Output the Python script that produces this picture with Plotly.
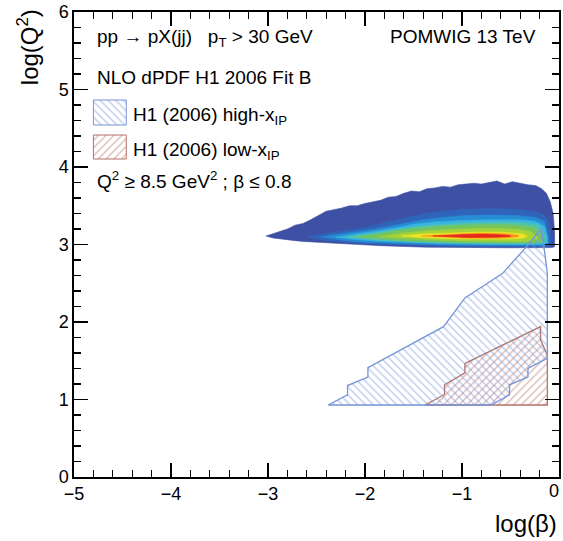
import plotly.graph_objects as go

# ---------------- data ----------------
# 2D density (log(beta), log(Q^2)) drawn as nested colour bands, outer -> inner
band_colors = ["rgb(62,80,163)", "rgb(48,100,186)", "rgb(38,140,212)", "rgb(55,180,225)",
               "rgb(80,195,175)", "rgb(115,198,95)", "rgb(165,210,55)", "rgb(240,228,35)",
               "rgb(245,150,35)", "rgb(228,40,30)"]

band_x = [
    [-3.02, -2.95, -2.88, -2.8, -2.72, -2.64, -2.56, -2.48, -2.40, -2.32, -2.24, -2.16, -2.08,
     -2.0, -1.92, -1.84, -1.76, -1.68, -1.6, -1.52, -1.44, -1.36, -1.28, -1.2, -1.12, -1.04,
     -0.96, -0.88, -0.8, -0.72, -0.64, -0.56, -0.48, -0.40, -0.32, -0.24, -0.18, -0.13, -0.09,
     -0.06, -0.045],
    [-2.6, -2.4, -2.2, -2.0, -1.8, -1.6, -1.4, -1.2, -1.0, -0.8, -0.6, -0.4, -0.25, -0.15, -0.1, -0.08],
    [-2.45, -2.2, -2.0, -1.8, -1.6, -1.4, -1.2, -1.0, -0.8, -0.6, -0.4, -0.25, -0.15, -0.11],
    [-2.3, -2.1, -1.9, -1.7, -1.5, -1.3, -1.0, -0.7, -0.4, -0.25, -0.15, -0.12],
    [-2.2, -2.0, -1.8, -1.5, -1.2, -0.9, -0.6, -0.35, -0.2, -0.14],
    [-2.1, -1.9, -1.6, -1.3, -1.0, -0.7, -0.4, -0.25, -0.17],
    [-1.85, -1.6, -1.3, -1.0, -0.7, -0.45, -0.3, -0.22],
    [-1.62, -1.4, -1.1, -0.8, -0.55, -0.38, -0.33],
    [-1.42, -1.2, -1.0, -0.75, -0.55, -0.42],
    [-1.3, -1.1, -0.95, -0.8, -0.65, -0.5],
]
band_top = [
    [3.11, 3.14, 3.17, 3.20, 3.25, 3.27, 3.32, 3.37, 3.43, 3.45, 3.47, 3.50, 3.50,
     3.53, 3.55, 3.57, 3.61, 3.62, 3.66, 3.69, 3.68, 3.72, 3.73, 3.75, 3.74, 3.77,
     3.78, 3.79, 3.78, 3.80, 3.82, 3.78, 3.81, 3.79, 3.77, 3.76, 3.72, 3.66, 3.55,
     3.40, 3.15],
    [3.10, 3.14, 3.18, 3.22, 3.28, 3.34, 3.40, 3.43, 3.45, 3.46, 3.46, 3.45, 3.43, 3.38, 3.28, 3.05],
    [3.10, 3.14, 3.18, 3.22, 3.27, 3.32, 3.35, 3.37, 3.38, 3.38, 3.37, 3.35, 3.30, 3.10],
    [3.095, 3.13, 3.17, 3.21, 3.26, 3.29, 3.31, 3.32, 3.32, 3.30, 3.24, 3.10],
    [3.10, 3.13, 3.17, 3.23, 3.26, 3.28, 3.29, 3.28, 3.25, 3.12],
    [3.10, 3.13, 3.19, 3.23, 3.25, 3.26, 3.25, 3.22, 3.10],
    [3.10, 3.15, 3.18, 3.20, 3.21, 3.20, 3.17, 3.10],
    [3.11, 3.135, 3.15, 3.16, 3.155, 3.14, 3.11],
    [3.11, 3.13, 3.14, 3.145, 3.14, 3.12],
    [3.11, 3.125, 3.13, 3.135, 3.13, 3.115],
]
band_bot = [
    [3.11, 3.085, 3.07, 3.06, 3.05, 3.04, 3.035, 3.03, 3.025, 3.02, 3.012, 3.005, 3.0,
     2.995, 2.99, 2.985, 2.98, 2.977, 2.974, 2.97, 2.968, 2.966, 2.964, 2.962, 2.961, 2.96,
     2.96, 2.959, 2.959, 2.958, 2.958, 2.958, 2.958, 2.958, 2.958, 2.958, 2.958, 2.959, 2.96,
     2.963, 2.975],
    [3.10, 3.05, 3.03, 3.01, 3.0, 2.99, 2.985, 2.98, 2.975, 2.972, 2.97, 2.97, 2.97, 2.975, 2.98, 3.0],
    [3.10, 3.05, 3.03, 3.02, 3.01, 3.0, 2.995, 2.99, 2.988, 2.985, 2.985, 2.985, 2.99, 3.0],
    [3.095, 3.065, 3.045, 3.035, 3.025, 3.015, 3.005, 3.0, 3.0, 3.0, 3.005, 3.02],
    [3.10, 3.07, 3.05, 3.035, 3.02, 3.015, 3.01, 3.01, 3.01, 3.03],
    [3.10, 3.075, 3.05, 3.035, 3.025, 3.02, 3.02, 3.025, 3.04],
    [3.10, 3.08, 3.06, 3.045, 3.04, 3.04, 3.045, 3.07],
    [3.11, 3.09, 3.075, 3.07, 3.07, 3.08, 3.10],
    [3.11, 3.095, 3.085, 3.08, 3.085, 3.10],
    [3.11, 3.10, 3.09, 3.09, 3.095, 3.105],
]

# H1 (2006) high-x_IP region outline
high_x = [-2.38, -2.18, -2.18, -1.97, -1.97, -1.76, -1.19, -0.97, -0.58, -0.35, -0.18,
          -0.12, -0.12, -0.32, -0.32, -0.51, -0.51, -0.70, -2.38]
high_y = [0.929, 1.06, 1.18, 1.29, 1.41, 1.55, 1.94, 2.31, 2.63, 2.95, 3.21,
          2.63, 1.53, 1.40, 1.29, 1.19, 1.06, 0.929, 0.929]
# H1 (2006) low-x_IP region outline
low_x = [-1.38, -1.18, -1.18, -0.97, -0.97, -0.19, -0.19, -0.12, -0.12, -1.38]
low_y = [0.929, 1.065, 1.19, 1.345, 1.465, 1.94, 1.77, 1.57, 0.929, 0.929]

x_ticks = [-5, -4, -3, -2, -1, 0]
x_ticklabels = ["\u22125", "\u22124", "\u22123", "\u22122", "\u22121", ""]  # "0" drawn at frame edge
y_ticks = [0, 1, 2, 3, 4, 5, 6]

BLUE = "rgb(118,148,216)"
RED = "rgb(182,112,102)"
FONT = "Liberation Sans, Arial, Helvetica, sans-serif"

# ---------------- figure ----------------
W, H = 563, 541
L, R, T, B = 74, 561, 12, 477  # plot frame in pixels


def pxx(px):
    return (px - L) / (R - L)


def pxy(py):
    return (B - py) / (B - T)


fig = go.Figure()

for xs, tp, bt, col in zip(band_x, band_top, band_bot, band_colors):
    fig.add_trace(go.Scatter(
        x=xs + xs[::-1], y=tp + bt[::-1], mode="lines", fill="toself",
        fillcolor=col, line=dict(width=0.6, color=col), hoverinfo="skip", showlegend=False))

HATCH = dict(bgcolor="rgba(0,0,0,0)", size=5.5, solidity=0.24)
fig.add_trace(go.Scatter(
    x=low_x, y=low_y, mode="lines", fill="toself", fillcolor="rgba(0,0,0,0)",
    fillpattern=dict(shape="/", fgcolor=RED, **HATCH),
    line=dict(color=RED, width=1.3), showlegend=False, hoverinfo="skip"))
fig.add_trace(go.Scatter(
    x=high_x, y=high_y, mode="lines", fill="toself", fillcolor="rgba(0,0,0,0)",
    fillpattern=dict(shape="\\", fgcolor=BLUE, **HATCH),
    line=dict(color=BLUE, width=1.3), showlegend=False, hoverinfo="skip"))

# legend boxes on an invisible pixel-unit overlay axis
legend_boxes = [((93.5, 100), (126.5, 125), "\\", BLUE), ((93.5, 135), (126.5, 159), "/", RED)]
for (x0, y0), (x1, y1), shp, col in legend_boxes:
    fig.add_trace(go.Scatter(
        x=[x0, x1, x1, x0, x0], y=[y0, y0, y1, y1, y0], xaxis="x2", yaxis="y2",
        mode="lines", fill="toself", fillcolor="rgba(0,0,0,0)",
        fillpattern=dict(shape=shp, fgcolor=col, **HATCH),
        line=dict(color=col, width=1), showlegend=False, hoverinfo="skip"))

axis_common = dict(
    showgrid=False, zeroline=False, showline=True, linecolor="black", linewidth=1.6,
    mirror="ticks", ticks="inside", ticklen=14, tickwidth=1.2, tickcolor="black",
    tickfont=dict(family=FONT, size=18, color="black"),
    minor=dict(ticks="inside", ticklen=7, tickwidth=1.2, tickcolor="black", dtick=0.2),
)

fig.update_layout(
    width=W, height=H,
    margin=dict(l=L, r=W - R, t=T, b=H - B),
    paper_bgcolor="white", plot_bgcolor="white",
    font=dict(family=FONT, color="black"),
    xaxis=dict(range=[-5, 0], tickvals=x_ticks, ticktext=x_ticklabels, ticklabelstandoff=0,
               **axis_common),
    yaxis=dict(range=[0, 6], tickvals=y_ticks, ticklabelstandoff=0, **axis_common),
    xaxis2=dict(range=[L, R], overlaying="x", visible=False),
    yaxis2=dict(range=[B, T], overlaying="y", visible=False),
    showlegend=False,
)

texts = [
    ("pp \u2192 pX(jj)   p<sub>T</sub> > 30 GeV", 95, 38, "left"),
    ("POMWIG 13 TeV", 540, 37, "right"),
    ("NLO dPDF H1 2006 Fit B", 95, 77.5, "left"),
    ("H1 (2006) high-x<sub>IP</sub>", 131, 116, "left"),
    ("H1 (2006) low-x<sub>IP</sub>", 131, 150.5, "left"),
    ("Q<sup>2</sup> \u2265 8.5 GeV<sup>2</sup> ; \u03b2 \u2264 0.8", 95, 180, "left"),
]
for txt, px, py, anc in texts:
    fig.add_annotation(text=txt, xref="paper", yref="paper", x=pxx(px), y=pxy(py),
                       xanchor=anc, yanchor="middle", showarrow=False,
                       font=dict(family=FONT, size=19, color="black"))

# last x tick label ("0"), pulled just inside the page edge as in the reference
fig.add_annotation(text=str(x_ticks[-1]), xref="paper", yref="paper", x=pxx(563), y=pxy(491),
                   xanchor="right", yanchor="middle", showarrow=False,
                   font=dict(family=FONT, size=18, color="black"))

fig.add_annotation(text="log(Q<sup>2</sup>)", xref="paper", yref="paper",
                   x=pxx(28), y=pxy(7), xanchor="center", yanchor="top", textangle=-90,
                   showarrow=False, font=dict(family=FONT, size=24, color="black"))
fig.add_annotation(text="log(\u03b2)", xref="paper", yref="paper",
                   x=pxx(561), y=pxy(523), xanchor="right", yanchor="middle",
                   showarrow=False, font=dict(family=FONT, size=24, color="black"))

fig.write_html("out.html", config={"displayModeBar": False, "staticPlot": True},
               post_script="document.body.style.margin='0px';document.body.style.overflow='hidden';")
